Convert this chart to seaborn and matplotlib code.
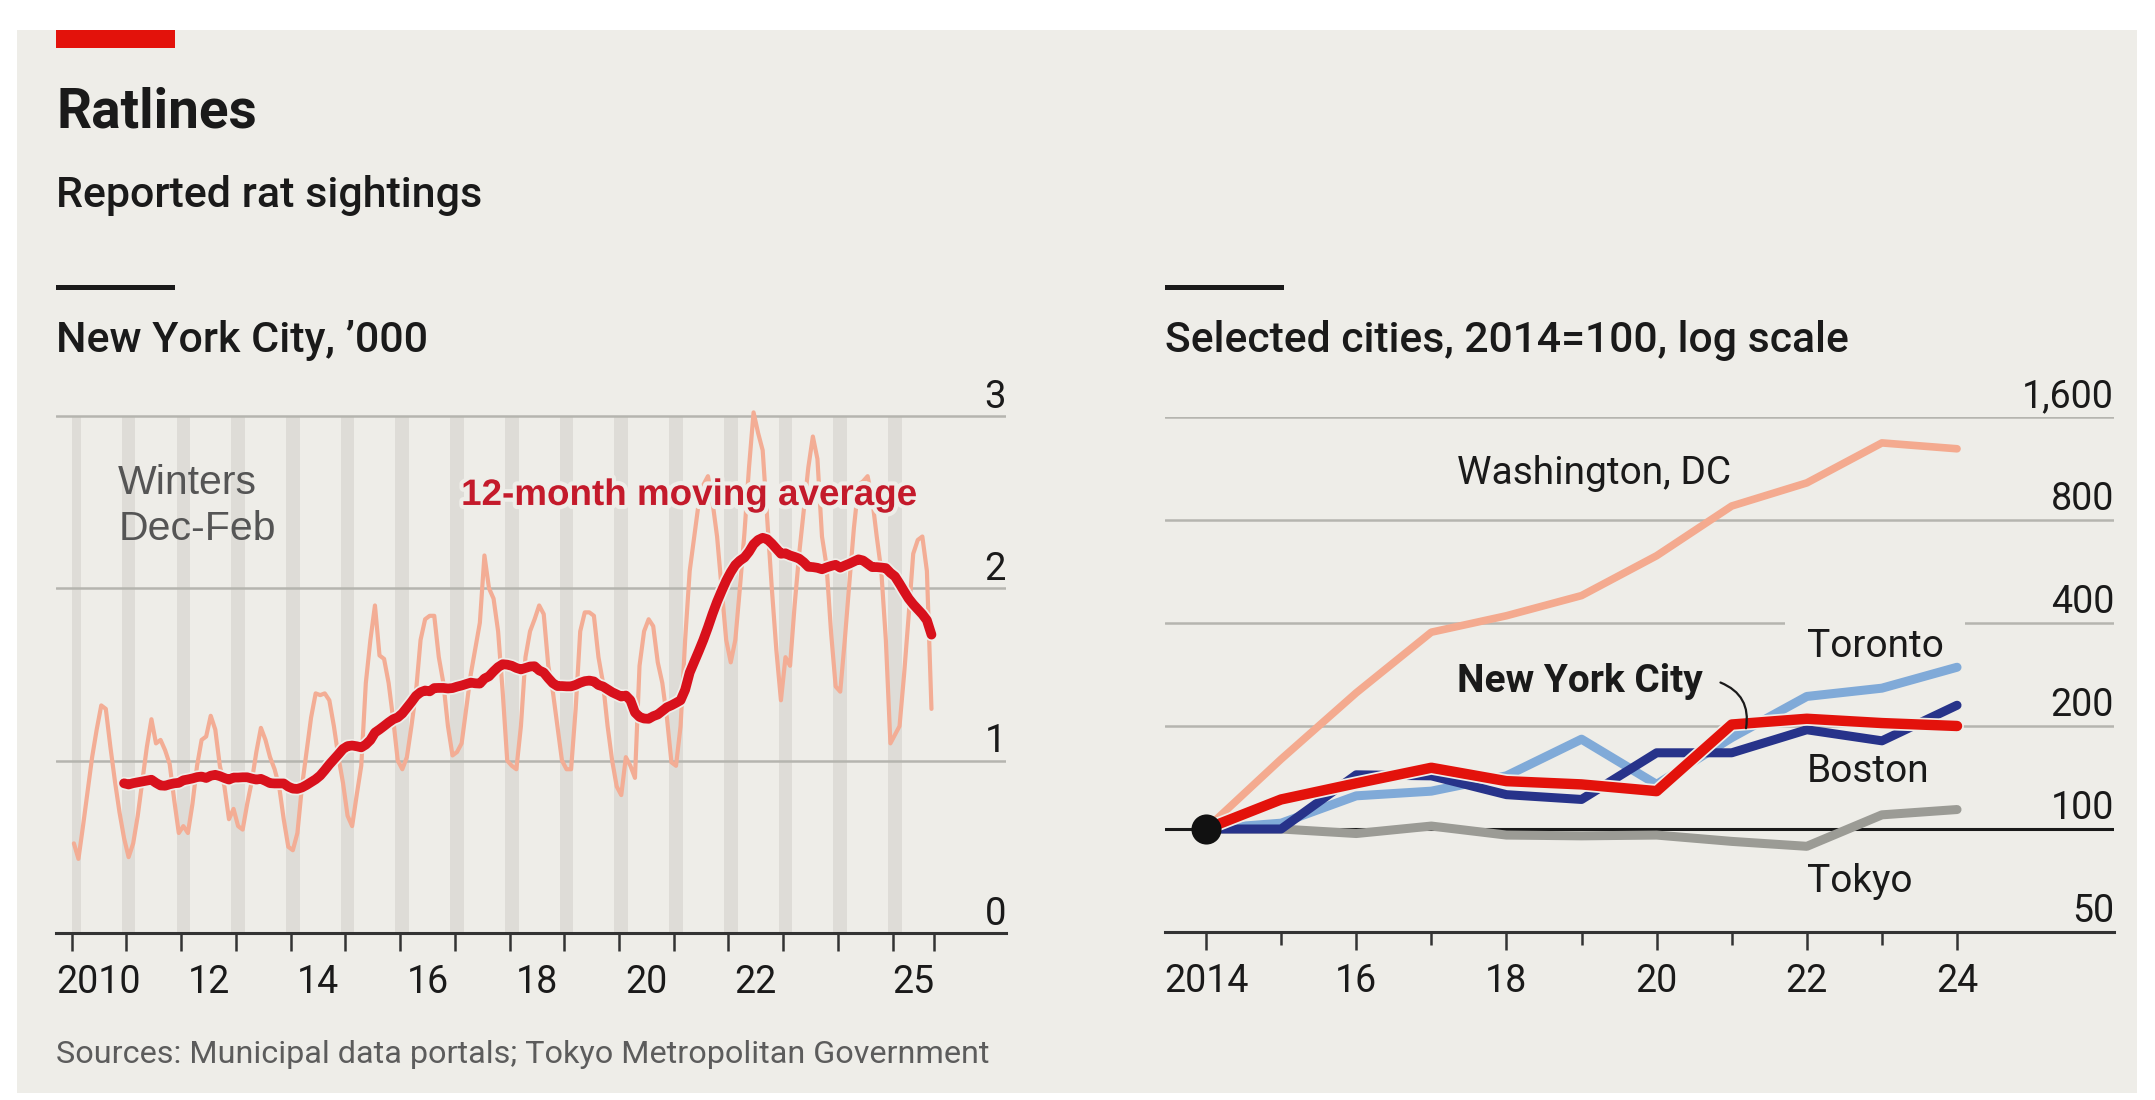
import numpy as np
import pandas as pd
import seaborn as sns
import matplotlib.pyplot as plt
import matplotlib.patheffects as pe
import matplotlib.transforms as mtransforms
from matplotlib.patches import Rectangle
from matplotlib.ticker import NullLocator

# ---- data ----------------------------------------------------------------
# New York City, reported rat sightings per month ('000), Jan 2010 - Sep 2025
nyc_monthly = [
    0.52, 0.43, 0.62, 0.82, 1.02, 1.18, 1.32, 1.30, 1.08, 0.88, 0.70, 0.55,  # 2010
    0.44, 0.52, 0.68, 0.88, 1.08, 1.24, 1.10, 1.12, 1.06, 0.98, 0.77, 0.58,  # 2011
    0.62, 0.58, 0.75, 0.97, 1.12, 1.14, 1.26, 1.18, 0.97, 0.85, 0.66, 0.72,  # 2012
    0.62, 0.60, 0.75, 0.88, 1.05, 1.19, 1.12, 1.02, 0.95, 0.85, 0.66, 0.50,  # 2013
    0.48, 0.58, 0.85, 1.05, 1.25, 1.39, 1.38, 1.39, 1.35, 1.20, 1.02, 0.87,  # 2014
    0.68, 0.62, 0.80, 0.97, 1.45, 1.70, 1.90, 1.61, 1.59, 1.45, 1.24, 1.00,  # 2015
    0.95, 1.02, 1.20, 1.40, 1.70, 1.82, 1.84, 1.84, 1.60, 1.45, 1.20, 1.03,  # 2016
    1.05, 1.10, 1.30, 1.50, 1.65, 1.80, 2.19, 2.00, 1.94, 1.75, 1.40, 1.00,  # 2017
    0.97, 0.95, 1.20, 1.60, 1.75, 1.82, 1.90, 1.85, 1.55, 1.40, 1.20, 1.00,  # 2018
    0.95, 0.95, 1.30, 1.75, 1.86, 1.86, 1.84, 1.60, 1.45, 1.20, 1.00, 0.85,  # 2019
    0.80, 1.02, 0.97, 0.90, 1.55, 1.75, 1.82, 1.78, 1.57, 1.45, 1.25, 0.99,  # 2020
    0.97, 1.20, 1.70, 2.10, 2.30, 2.50, 2.60, 2.65, 2.50, 2.30, 2.00, 1.70,  # 2021
    1.57, 1.70, 2.00, 2.32, 2.70, 3.02, 2.90, 2.80, 2.40, 2.00, 1.64, 1.35,  # 2022
    1.60, 1.55, 1.90, 2.20, 2.45, 2.70, 2.88, 2.75, 2.30, 2.13, 1.74, 1.43,  # 2023
    1.40, 1.70, 2.03, 2.35, 2.60, 2.62, 2.65, 2.52, 2.30, 2.10, 1.70, 1.10,  # 2024
    1.15, 1.20, 1.50, 1.84, 2.20, 2.28, 2.30, 2.10, 1.30,                    # 2025
]
first_year = 2010
winter_years = list(range(2009, 2025))   # winter = Dec of that year to Feb of next

left_yticks = [0, 1, 2, 3]
left_year_ticks = list(range(2010, 2026))
left_label_years = [2010, 2012, 2014, 2016, 2018, 2020, 2022, 2025]
left_labels = ['2010', '12', '14', '16', '18', '20', '22', '25']

# Selected cities, 2014=100
years = list(range(2014, 2025))
washington = [100, 160, 250, 376, 420, 481, 629, 879, 1027, 1344, 1292]
toronto = [100, 104, 125, 129, 143, 183, 135, 185, 244, 258, 297]
boston = [100, 100, 144, 143, 126, 122, 167, 167, 195, 181, 230]
new_york = [100, 122, 136, 151, 138, 135, 129, 202, 210, 204, 200]
tokyo = [100, 100, 97, 102, 96, 95.5, 96, 92, 89, 110, 114]
base_value = 100

right_yticks = [50, 100, 200, 400, 800, 1600]
right_ylabels = ['50', '100', '200', '400', '800', '1,600']
right_major_years = [2014, 2016, 2018, 2020, 2022, 2024]
right_minor_years = [2015, 2017, 2019, 2021, 2023]
right_labels = ['2014', '16', '18', '20', '22', '24']

# ---- style ---------------------------------------------------------------
BG = '#eeede8'
INK = '#1a1a1a'
GRID = '#b5b5af'
AXIS = '#333333'
WINTER = '#dedcd7'
RAW = '#f3ad95'
MA_RED = '#d8111c'
ECON_RED = '#e3120b'

sns.set_theme(style='white')
plt.rcParams['font.family'] = ['Roboto', 'DejaVu Sans']
plt.rcParams['text.color'] = INK
plt.rcParams['xtick.color'] = INK

W, H = 2155, 1100
fig = plt.figure(figsize=(W / 100, H / 100), dpi=100, facecolor='white')


def fx(x):
    return x / W


def fy(y):
    return 1 - y / H


# background panel, red tag and header rules
fig.patches.append(Rectangle((fx(17), fy(1093)), fx(2137 - 17), (1093 - 30) / H,
                             transform=fig.transFigure, facecolor=BG, edgecolor='none', zorder=-10))
fig.patches.append(Rectangle((fx(56), fy(48)), fx(119), 18 / H,
                             transform=fig.transFigure, facecolor=ECON_RED, edgecolor='none'))
for x0 in (56, 1165):
    fig.patches.append(Rectangle((fx(x0), fy(290)), fx(119), 5 / H,
                                 transform=fig.transFigure, facecolor=INK, edgecolor='none'))

fig.text(fx(56), fy(128), 'Ratlines', fontsize=39.5, fontweight='bold', va='baseline')
fig.text(fx(56), fy(207), 'Reported rat sightings', fontsize=31, fontweight='medium', va='baseline')
fig.text(fx(56), fy(352), 'New York City, \u2019000', fontsize=31, fontweight='medium', va='baseline')
fig.text(fx(1165), fy(352), 'Selected cities, 2014=100, log scale', fontsize=30.7,
         fontweight='medium', va='baseline')
fig.text(fx(56), fy(1063), 'Sources: Municipal data portals; Tokyo Metropolitan Government',
         fontsize=23.3, color='#5c5c5c', va='baseline')

# ---- left panel: NYC monthly ----------------------------------------------
df = pd.DataFrame({'t': first_year + (np.arange(len(nyc_monthly)) + 0.5) / 12,
                   'sightings': nyc_monthly})
df['avg12'] = df['sightings'].rolling(12).mean()
t_end = first_year + len(nyc_monthly) / 12

ax1 = fig.add_axes([fx(56), fy(933), fx(950), (933 - 398.6) / H])
ax1.set_facecolor('none')
ax1.set_xlim(2009.715, 2027.07)
ax1.set_ylim(0, 3.1)

for y in winter_years:
    ax1.axvspan(max(y + 11 / 12, first_year), y + 1 + 2 / 12, ymin=0, ymax=3 / 3.1,
                color=WINTER, lw=0, zorder=0)

sns.lineplot(data=df, x='t', y='sightings', ax=ax1, color=RAW, lw=3.0, zorder=2)
sns.lineplot(data=df.dropna(), x='t', y='avg12', ax=ax1, color=MA_RED, lw=7, zorder=3,
             path_effects=[pe.Stroke(linewidth=9.5, foreground=BG), pe.Normal()])

ax1.set_yticks(left_yticks)
ax1.set_yticklabels([])
ax1.grid(axis='y', color=GRID, lw=1.8)
ax1.grid(axis='x', visible=False)
ax1.set_axisbelow(True)
ylab_tr = mtransforms.offset_copy(ax1.get_yaxis_transform(), fig=fig, y=6, units='points')
for v in left_yticks:
    ax1.text(1.0, v, str(v), transform=ylab_tr, ha='right', va='baseline', fontsize=27.5)

ax1.set_xticks(left_year_ticks + [t_end])
ax1.set_xticklabels([])
label_pos = [(y + min(y + 1, t_end)) / 2 for y in left_label_years]
ax1.set_xticks(label_pos, minor=True)
ax1.set_xticklabels(left_labels, minor=True, fontsize=27)
ax1.tick_params(axis='x', which='major', length=13, width=1.8, color=AXIS, direction='out', bottom=True)
ax1.tick_params(axis='x', which='minor', length=0, pad=22, bottom=True)
ax1.tick_params(axis='y', length=0)
for s in ('left', 'right', 'top'):
    ax1.spines[s].set_visible(False)
ax1.spines['bottom'].set_color(AXIS)
ax1.spines['bottom'].set_linewidth(2.2)
ax1.set_xlabel('')
ax1.set_ylabel('')

halo = [pe.withStroke(linewidth=6, foreground=BG)]
# va='baseline' on two lines sits on the last line
ax1.text(2010.85, 2.28, 'Winters\nDec-Feb', family=['Liberation Sans', 'DejaVu Sans'],
         fontsize=29.5, color='#555555', va='baseline', linespacing=1.25, zorder=4)
ax1.text(2017.115, 2.483, '12-month moving average', family=['Liberation Sans', 'DejaVu Sans'],
         fontsize=26.5, fontweight='bold', color='#c41a2b', va='baseline', zorder=4,
         path_effects=halo)

# ---- right panel: selected cities, log scale ------------------------------
ax2 = fig.add_axes([fx(1165), fy(932), fx(949), (932 - 417) / H])
ax2.set_facecolor('none')
ax2.set_yscale('log', base=2)
ax2.set_ylim(50, 1600)
ax2.set_xlim(2013.454, 2026.09)

series = [
    (washington, '#f4aa8f', 5.5, 2),
    (tokyo, '#9b9b95', 6.5, 2),
    (toronto, '#80aad8', 6.5, 3),
    (boston, '#27338a', 6.5, 4),
]
for vals, col, lw, z in series:
    sns.lineplot(x=years, y=vals, ax=ax2, color=col, lw=lw, zorder=z)
sns.lineplot(x=years, y=new_york, ax=ax2, color=ECON_RED, lw=7.5, zorder=5,
             path_effects=[pe.Stroke(linewidth=10, foreground=BG), pe.Normal()])
ax2.scatter([years[0]], [base_value], s=470, color='#111111', zorder=6, linewidths=0)

ax2.set_yticks(right_yticks)
ax2.yaxis.set_minor_locator(NullLocator())
ax2.set_yticklabels([])
ax2.grid(axis='y', color=GRID, lw=1.8)
ax2.grid(axis='x', visible=False)
ax2.set_axisbelow(True)
ax2.axhline(base_value, color=INK, lw=2.2, zorder=1)
ylab_tr2 = mtransforms.offset_copy(ax2.get_yaxis_transform(), fig=fig, y=7, units='points')
for v, lab in zip(right_yticks, right_ylabels):
    ax2.text(1.0, v, lab, transform=ylab_tr2, ha='right', va='baseline', fontsize=27)

ax2.set_xticks(right_major_years)
ax2.set_xticklabels(right_labels, fontsize=27)
ax2.set_xticks(right_minor_years, minor=True)
ax2.tick_params(axis='x', which='major', length=13, width=1.8, color=AXIS, direction='out',
                pad=9, bottom=True)
ax2.tick_params(axis='x', which='minor', length=9, width=1.8, color=AXIS, direction='out', bottom=True)
ax2.tick_params(axis='y', length=0)
for s in ('left', 'right', 'top'):
    ax2.spines[s].set_visible(False)
ax2.spines['bottom'].set_color(AXIS)
ax2.spines['bottom'].set_linewidth(2.2)
ax2.set_xlabel('')
ax2.set_ylabel('')

ax2.text(2017.34, 1017, 'Washington, DC', fontsize=28, va='baseline')
ax2.text(2022.0, 318, 'Toronto', fontsize=28, va='baseline', zorder=1.5,
         bbox=dict(boxstyle='square,pad=0.55', fc=BG, ec='none'))
ax2.text(2017.34, 251, 'New York City', fontsize=28, fontweight='bold', va='baseline')
ax2.text(2022.0, 137, 'Boston', fontsize=28, va='baseline')
ax2.text(2022.0, 65.5, 'Tokyo', fontsize=28, va='baseline')
ax2.annotate('', xy=(2021.19, 197), xytext=(2020.85, 268),
             arrowprops=dict(arrowstyle='-', connectionstyle='arc3,rad=-0.4', color=INK,
                             lw=1.6, shrinkA=0, shrinkB=0), zorder=6)

fig.savefig('out.png', dpi=100, facecolor='white')
